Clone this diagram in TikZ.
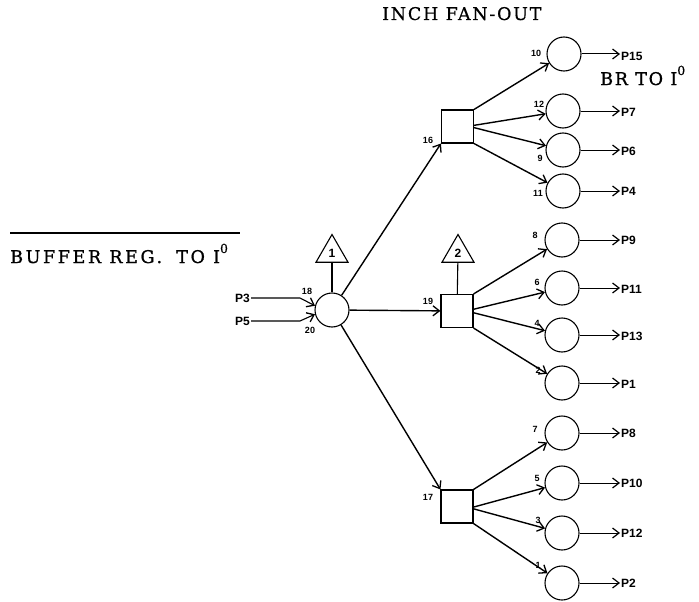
\documentclass[tikz,border=0pt]{standalone}
\usepackage{fontspec}
\usepackage{graphicx}
\newfontfamily\psans{Liberation Sans}
\newfontfamily\ttlfont{DejaVu Serif}[FakeBold=0.8]
\newfontfamily\ttlfontA{DejaVu Serif}[LetterSpace=10,FakeBold=0.6]
\newfontfamily\ttlfontB{DejaVu Serif}[LetterSpace=15,FakeBold=1.0]
\newfontfamily\ttlfontC{DejaVu Serif}[LetterSpace=10,FakeBold=1.0]
\usetikzlibrary{arrows.meta,shapes.geometric}
\tikzset{
  cnode/.style={draw, circle, minimum size=34pt, inner sep=0pt, line width=1.1pt},
  snode/.style={draw, rectangle, minimum width=32pt, minimum height=33pt, inner sep=0pt, line width=1.1pt},
  tnode/.style={draw, regular polygon, regular polygon sides=3, minimum size=37pt, inner sep=0pt, line width=1.1pt, font=\psans\bfseries\fontsize{12}{12}\selectfont},
  arr/.style={line width=1.4pt, -{Straight Barb[length=6.5pt,width=10pt,line width=1.3pt]}},
  oarr/.style={line width=1.0pt, -{Straight Barb[length=6.5pt,width=10pt,line width=1.2pt]}},
  stem/.style={line width=1.1pt},
  plab/.style={font=\psans\bfseries\fontsize{12}{12}\selectfont, inner sep=1pt},
  num/.style={font=\psans\bfseries\fontsize{9}{9}\selectfont, inner sep=0pt},
  ttl/.style={font=\fontsize{17.5}{17.5}\selectfont, inner sep=0pt},
}
\newcommand{\supz}{\raisebox{10pt}{\ttlfont\fontsize{12.5}{12.5}\selectfont 0}}
\begin{document}
\begin{tikzpicture}[x=1pt,y=-1pt]
\useasboundingbox (0,0) rectangle (699,602);
% titles
\node[ttl, anchor=base west] (title1) at (382,20) {\ttlfontA INCH FAN-OUT};
\node[ttl, anchor=base west] (title2) at (10,263) {\ttlfontB BUFFER REG.\hspace{6pt} TO I\supz};
\node[ttl, anchor=base west] (title3) at (600,85) {\ttlfontC BR TO I\supz};
\coordinate (ol1) at (10,233);
\coordinate (ol2) at (240,233);
\draw[line width=1.2pt] (ol1) -- (ol2);

% central node
\node[cnode] (c0) at (332,310) {};
\node[tnode] (tri1) at (332,253) {1};
\draw[stem] (c0) -- (tri1);

% inputs
\node[plab, anchor=east] (p3) at (251,298) {P3};
\node[plab, anchor=east] (p5) at (251,321) {P5};
\coordinate (k3) at (300,298);
\coordinate (k5) at (300,321);
\draw[arr, line width=1.1pt] (p3.east) -- (k3) -- (c0.166);
\draw[arr, line width=1.1pt] (p5.east) -- (k5) -- (c0.194);
\node[num] (n18) at (307,291) {18};
\node[num] (n20) at (310,330) {20};

% squares
\node[snode] (s1) at (457.5,126.5) {};
\node[snode] (s2) at (457,311) {};
\node[snode] (s3) at (457,506.5) {};
\node[tnode] (tri2) at (458,253) {2};
\draw[stem] (s2) -- (tri2);

\draw[arr] (c0) -- (s1.south west);
\draw[arr] (c0) -- (s2);
\draw[arr] (c0) -- (s3.north west);
\node[num] (n16) at (428,140) {16};
\node[num] (n19) at (428,301) {19};
\node[num] (n17) at (428,497) {17};

% circles
\node[cnode] (t1) at (564,54) {};
\node[cnode] (t2) at (563,111) {};
\node[cnode] (t3) at (563,150) {};
\node[cnode] (t4) at (563,191) {};
\node[cnode] (m1) at (562,240) {};
\node[cnode] (m2) at (562,288) {};
\node[cnode] (m3) at (562,335) {};
\node[cnode] (m4) at (562,383) {};
\node[cnode] (b1) at (562,433) {};
\node[cnode] (b2) at (562,483) {};
\node[cnode] (b3) at (562,533) {};
\node[cnode] (b4) at (562,583) {};

% fan-out arrows
\draw[arr] (s1.north east) -- (t1);
\draw[arr] (s1.4) -- (t2);
\draw[arr] (s1.-4) -- (t3);
\draw[arr] (s1.south east) -- (t4);
\draw[arr] (s2.north east) -- (m1);
\draw[arr] (s2.6) -- (m2);
\draw[arr] (s2.-6) -- (m3);
\draw[arr] (s2.south east) -- (m4);
\draw[arr] (s3.north east) -- (b1);
\draw[arr] (s3.-2) -- (b2);
\draw[arr] (s3.-8) -- (b3);
\draw[arr] (s3.south east) -- (b4);

% small numbers
\node[num] (n10) at (536,53) {10};
\node[num] (n12) at (539,104) {12};
\node[num] (n9) at (540,158) {9};
\node[num] (n11) at (538,193) {11};
\node[num] (n8) at (535,235) {8};
\node[num] (n6) at (537,282) {6};
\node[num] (n4) at (537,323) {4};
\node[num] (n2) at (538,370) {2};
\node[num] (n7) at (535,429) {7};
\node[num] (n5) at (537,478) {5};
\node[num] (n3) at (538,520) {3};
\node[num] (n1) at (538,565) {1};

% outputs
\node[plab, anchor=west] (o1) at (620,56) {P15};
\node[plab, anchor=west] (o2) at (620,112) {P7};
\node[plab, anchor=west] (o3) at (620,151) {P6};
\node[plab, anchor=west] (o4) at (620,191) {P4};
\node[plab, anchor=west] (o5) at (620,240) {P9};
\node[plab, anchor=west] (o6) at (620,289) {P11};
\node[plab, anchor=west] (o7) at (620,336) {P13};
\node[plab, anchor=west] (o8) at (620,384) {P1};
\node[plab, anchor=west] (o9) at (620,433) {P8};
\node[plab, anchor=west] (o10) at (620,483) {P10};
\node[plab, anchor=west] (o11) at (620,533) {P12};
\node[plab, anchor=west] (o12) at (620,583) {P2};
\draw[oarr] (t1) -- (o1.west |- t1);
\draw[oarr] (t2) -- (o2.west |- t2);
\draw[oarr] (t3) -- (o3.west |- t3);
\draw[oarr] (t4) -- (o4.west |- t4);
\draw[oarr] (m1) -- (o5.west |- m1);
\draw[oarr] (m2) -- (o6.west |- m2);
\draw[oarr] (m3) -- (o7.west |- m3);
\draw[oarr] (m4) -- (o8.west |- m4);
\draw[oarr] (b1) -- (o9.west |- b1);
\draw[oarr] (b2) -- (o10.west |- b2);
\draw[oarr] (b3) -- (o11.west |- b3);
\draw[oarr] (b4) -- (o12.west |- b4);
\end{tikzpicture}
\end{document}
